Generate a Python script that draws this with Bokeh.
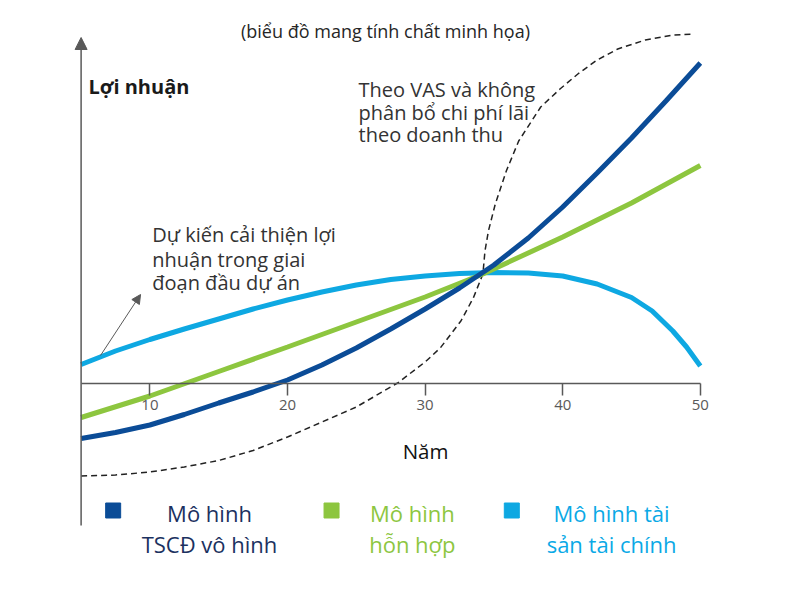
from bokeh.plotting import figure
from bokeh.models import Range1d, LinearAxis, FixedTicker, Arrow, NormalHead, ColumnDataSource
from bokeh.core.properties import value
from bokeh.embed import file_html
from bokeh.resources import INLINE

# ---- data (illustrative profit curves) ----
years_tscd = [5, 7.5, 10, 12.5, 15, 17.5, 20, 22.5, 25, 27.5, 30, 32.5, 35, 37.5, 40, 42.5, 45, 47.5, 50]
profit_tscd = [-5.55, -4.95, -4.2, -3.15, -2.0, -0.9, 0.3, 1.8, 3.5, 5.4, 7.4, 9.5, 11.8, 14.5, 17.6, 21.0, 24.5, 28.2, 32.0]

years_mixed = [5, 10, 15, 20, 25, 30, 34.2, 40, 45, 50]
profit_mixed = [-3.45, -1.3, 1.15, 3.6, 6.1, 8.6, 10.9, 14.6, 18.0, 21.75]

years_fin = [5, 7.5, 10, 12.5, 15, 17.5, 20, 22.5, 25, 27.5, 30, 32.5, 35, 37.5, 40, 42.5, 45, 46.5, 48, 49, 50]
profit_fin = [1.85, 3.2, 4.35, 5.4, 6.4, 7.4, 8.3, 9.1, 9.8, 10.35, 10.7, 10.95, 11.05, 11.0, 10.7, 9.9, 8.55, 7.2, 5.2, 3.6, 1.7]

years_vas = [5, 7.5, 10, 12.5, 15, 17.5, 20, 22.5, 25, 27, 28, 30, 31.1, 32.6, 33.5, 34.2, 34.35, 34.6, 35.1, 35.9, 36.8, 38.4, 39.8, 41.1, 42.5, 44, 46, 48, 49.5]
profit_vas = [-9.3, -9.2, -8.9, -8.4, -7.75, -6.75, -5.4, -3.9, -2.4, -0.8, 0, 2.1, 3.5, 6.2, 8.5, 10.9, 13.2, 15.2, 17.9, 21.2, 24.2, 27.6, 29.4, 30.9, 32.3, 33.4, 34.3, 34.8, 34.9]

x_ticks = [10, 20, 30, 40, 50]

legend_labels = [["Mô hình", "TSCĐ vô hình"], ["Mô hình", "hỗn hợp"], ["Mô hình tài", "sản tài chính"]]

C_DARK = "#0B4C97"
C_GREEN = "#8DC63F"
C_LIGHT = "#0EA8E2"
C_AXIS = "#595959"
FONT = "Open Sans"

p = figure(width=800, height=589, x_range=Range1d(-0.858, 57.28), y_range=Range1d(-20.65, 38.25),
           output_backend="svg", toolbar_location=None, x_axis_location=None, y_axis_location=None,
           min_border=0, outline_line_color=None, background_fill_color="white", border_fill_color="white")
p.grid.visible = False

# x axis at profit = 0
xaxis = LinearAxis(fixed_location=0, bounds=(5, 50), ticker=FixedTicker(ticks=x_ticks))
xaxis.axis_line_color = C_AXIS
xaxis.axis_line_width = 1.5
xaxis.major_tick_line_color = C_AXIS
xaxis.major_tick_line_width = 1.5
xaxis.major_tick_in = 0
xaxis.major_tick_out = 12
xaxis.minor_tick_line_color = None
xaxis.major_label_text_font = FONT
xaxis.major_label_text_font_size = "15px"
xaxis.major_label_text_color = C_AXIS
xaxis.major_label_standoff = 5
p.add_layout(xaxis, "below")

# y axis with arrow head
p.add_layout(Arrow(end=NormalHead(size=12, fill_color=C_AXIS, line_color=C_AXIS),
                   x_start=5, y_start=-14.25, x_end=5, y_end=34.55,
                   line_color=C_AXIS, line_width=1.5))

# curves
p.line(years_vas, profit_vas, line_color="#222222", line_width=1.5, line_dash="6 4")
p.line(years_fin, profit_fin, line_color=C_LIGHT, line_width=5)
p.line(years_mixed, profit_mixed, line_color=C_GREEN, line_width=5)
p.line(years_tscd, profit_tscd, line_color=C_DARK, line_width=5)

# annotation arrow
p.add_layout(Arrow(end=NormalHead(size=9, fill_color=C_AXIS, line_color=C_AXIS),
                   x_start=6.41, y_start=2.75, x_end=9.32, y_end=8.85,
                   line_color=C_AXIS, line_width=1))

# texts
p.text(x=[27.12], y=[35.25], text=["(biểu đồ mang tính chất minh họa)"], text_font=value(FONT),
       text_font_size="18px", text_color="#262626", text_align="center", text_baseline="middle")
p.text(x=[5.54], y=[29.65], text=["Lợi nhuận"], text_font=value(FONT), text_font_style="bold",
       text_font_size="20px", text_color="#1a1a1a", text_align="left", text_baseline="middle")
p.text(x=[25.16] * 3, y=[29.4, 27.1, 24.85],
       text=["Theo VAS và không", "phân bổ chi phí lãi", "theo doanh thu"],
       text_font=value(FONT), text_font_size="20px", text_color="#333333",
       text_align="left", text_baseline="middle")
p.text(x=[10.17] * 3, y=[14.9, 12.4, 10.1],
       text=["Dự kiến cải thiện lợi", "nhuận trong giai", "đoạn đầu dự án"],
       text_font=value(FONT), text_font_size="20px", text_color="#333333",
       text_align="left", text_baseline="middle")
p.text(x=[30.03], y=[-6.75], text=["Năm"], text_font=value(FONT), text_font_size="20.5px",
       text_color="#111111", text_align="center", text_baseline="middle")

# legend
sq = ColumnDataSource(dict(x=[7.33, 23.2, 36.3], y=[-12.75] * 3, c=[C_DARK, C_GREEN, C_LIGHT]))
p.scatter("x", "y", source=sq, marker="square", size=15, fill_color="c", line_color="c")
legend_text_colors = ["#1B3160", "#8DC63F", "#0AA9E6"]
legend_x = [14.33, 29.07, 43.55]
for lx, labels, col in zip(legend_x, legend_labels, legend_text_colors):
    p.text(x=[lx, lx], y=[-12.95, -16.05], text=labels, text_font=value(FONT), text_font_size="22px",
           text_color=col, text_align="center", text_baseline="middle")

open("out.html", "w").write(file_html(p, INLINE))
